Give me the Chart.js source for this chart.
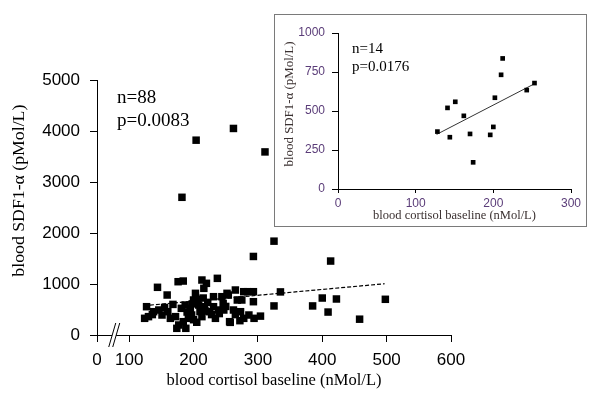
<!DOCTYPE html>
<html>
<head>
<meta charset="utf-8">
<script src="https://cdn.jsdelivr.net/npm/chart.js@4/dist/chart.umd.min.js"></script>
<style>
  html, body { margin: 0; padding: 0; background: #fff; }
  #wrap { position: relative; width: 600px; height: 401px; }
  #inset-box {
    position: absolute; left: 274px; top: 14px; width: 311px; height: 211px;
    border: 1px solid #7a7a7a; background: #fff;
  }
</style>
</head>
<body>
<div id="wrap">
  <canvas id="main-chart" width="600" height="401"></canvas>
  <div id="inset-box"><canvas id="inset-chart" width="311" height="211"></canvas></div>
</div>
<script>
// main scatter: blood cortisol baseline vs blood SDF1-alpha (n=88)
const mainCortisol = [
  204, 262, 311, 182, 325, 293, 413, 498, 458, 422, 400, 409, 385, 325, 335, 304,
  144, 176, 184, 213, 159, 127, 124, 130, 138, 146, 151, 160, 164, 172, 177, 174,
  188, 184, 181, 187, 195, 200, 203, 208, 210, 197, 192, 216, 215,
  220, 237, 231, 244, 252, 265, 268, 275, 278, 284, 293, 293, 246, 239, 247, 231,
  225, 217, 213, 234, 256, 272, 278, 286, 294, 262, 273,
  254, 257, 205, 198, 206, 190, 168, 222, 228, 240, 155, 200, 218, 250, 136, 265
];
const mainSdf1 = [
  3820, 4050, 3590, 2700, 1840, 1540, 1450, 700, 310, 706, 725, 450, 570, 570, 845, 370,
  935, 1045, 1058, 1078, 784, 555, 327, 360, 457, 490, 392, 457, 327, 360, 196, 131,
  131, 261, 523, 588, 523, 686, 817, 588, 457, 392, 327, 915, 725,
  1013, 1111, 751, 751, 817, 882, 686, 686, 849, 849, 849, 653, 620, 490, 490, 555,
  457, 555, 360, 327, 261, 281, 327, 392, 327, 490, 457,
  784, 248, 250, 610, 700, 450, 600, 640, 400, 420, 540, 300, 470, 560, 400, 400
];
const mainTrendX = [123, 497];
const mainTrendY = [575, 1005];
const mainXTicks = [0, 100, 200, 300, 400, 500, 600];
const mainYTicks = [0, 1000, 2000, 3000, 4000, 5000];

// inset scatter (n=14)
const insetCortisol = [128, 141, 144, 151, 162, 170, 174, 196, 200, 202, 210, 212, 243, 253];
const insetSdf1 = [368, 520, 332, 559, 469, 353, 171, 347, 398, 585, 732, 837, 634, 679];
const insetTrendX = [127, 252];
const insetTrendY = [350, 672];
const insetXTicks = [0, 100, 200, 300];
const insetYTicks = [0, 250, 500, 750, 1000];

const X_ZERO_AT = 50;   // the broken x axis puts its "0" label here
const X_BREAK_AT = 76;

const SANS = "'Liberation Sans', Arial, sans-serif";
const SERIF = "'Liberation Serif', 'Times New Roman', serif";
const Y_TITLE = 'blood SDF1-α (pMol/L)';

function toPoints(xs, ys) {
  return xs.map((x, i) => ({ x: x, y: ys[i] }));
}

// vertical axis title, stretched along its length like the original figure
function drawYTitle(ctx, text, cx, cy, size, length, color) {
  ctx.save();
  ctx.font = size + 'px ' + SERIF;
  ctx.fillStyle = color;
  ctx.textAlign = 'center';
  ctx.textBaseline = 'middle';
  const w = ctx.measureText(text).width;
  ctx.translate(cx, cy);
  ctx.rotate(-Math.PI / 2);
  ctx.scale(length / w, 1);
  ctx.fillText(text, 0, 0);
  ctx.restore();
}

const mainNotes = {
  id: 'mainNotes',
  afterDraw(chart) {
    const ctx = chart.ctx;
    const xs = chart.scales.x, ys = chart.scales.y;
    ctx.save();
    // axis break "//"
    const bx = xs.getPixelForValue(X_BREAK_AT);
    const by = ys.getPixelForValue(0);
    ctx.fillStyle = '#fff';
    ctx.beginPath();
    ctx.moveTo(bx - 5, by + 12);
    ctx.lineTo(bx + 2, by - 12);
    ctx.lineTo(bx + 6, by - 12);
    ctx.lineTo(bx - 1, by + 12);
    ctx.closePath();
    ctx.fill();
    ctx.strokeStyle = '#000';
    ctx.lineWidth = 1;
    ctx.beginPath();
    ctx.moveTo(bx - 5, by + 12);
    ctx.lineTo(bx + 2, by - 12);
    ctx.moveTo(bx - 1, by + 12);
    ctx.lineTo(bx + 6, by - 12);
    ctx.stroke();
    // stats text
    ctx.fillStyle = '#000';
    ctx.font = '19px ' + SERIF;
    ctx.textBaseline = 'middle';
    ctx.textAlign = 'left';
    const tx = xs.getPixelForValue(81);
    ctx.fillText('n=88', tx, ys.getPixelForValue(4650));
    ctx.fillText('p=0.0083', tx, ys.getPixelForValue(4200));
    ctx.restore();
    drawYTitle(ctx, Y_TITLE, 20, ys.getPixelForValue(2830), 17, 172, '#000');
  }
};

const insetNotes = {
  id: 'insetNotes',
  afterDraw(chart) {
    const ctx = chart.ctx;
    const xs = chart.scales.x, ys = chart.scales.y;
    ctx.save();
    ctx.fillStyle = '#000';
    ctx.font = '15px ' + SERIF;
    ctx.textBaseline = 'middle';
    const tx = xs.getPixelForValue(18);
    ctx.fillText('n=14', tx, ys.getPixelForValue(897));
    ctx.fillText('p=0.0176', tx, ys.getPixelForValue(782));
    ctx.restore();
    drawYTitle(ctx, Y_TITLE, 15, ys.getPixelForValue(545), 12.5, 125, '#3a3030');
  }
};

new Chart(document.getElementById('main-chart'), {
  type: 'scatter',
  data: {
    datasets: [
      {
        data: toPoints(mainCortisol, mainSdf1),
        pointStyle: 'rect',
        pointRadius: 5.3,
        backgroundColor: '#000',
        borderColor: '#000',
        borderWidth: 0
      },
      {
        type: 'line',
        data: toPoints(mainTrendX, mainTrendY),
        borderColor: '#000',
        borderWidth: 1.2,
        borderDash: [4, 2],
        pointRadius: 0,
        fill: false
      }
    ]
  },
  options: {
    responsive: false,
    animation: false,
    layout: { padding: { left: 0, top: 80, right: 149, bottom: 0 } },
    plugins: { legend: { display: false }, tooltip: { enabled: false } },
    scales: {
      x: {
        type: 'linear',
        min: X_ZERO_AT,
        max: 600,
        afterBuildTicks: s => { s.ticks = mainXTicks.map(v => ({ value: v === 0 ? X_ZERO_AT : v })); },
        afterFit: s => { s.height = 66; },
        grid: { drawOnChartArea: false, drawTicks: true, tickLength: 7, color: '#000' },
        border: { display: true, color: '#000', width: 1 },
        ticks: {
          color: '#000',
          font: { family: SANS, size: 17 },
          padding: 8,
          maxRotation: 0,
          autoSkip: false,
          callback: v => (v === X_ZERO_AT ? '0' : String(v))
        },
        title: {
          display: true,
          text: 'blood cortisol baseline (nMol/L)',
          color: '#000',
          font: { family: SERIF, size: 16.5 },
          padding: 10
        }
      },
      y: {
        min: 0,
        max: 5000,
        afterBuildTicks: s => { s.ticks = mainYTicks.map(v => ({ value: v })); },
        afterFit: s => { s.width = 97; },
        grid: { drawOnChartArea: false, drawTicks: true, tickLength: 7, color: '#000' },
        border: { display: true, color: '#000', width: 1 },
        ticks: { color: '#000', font: { family: SANS, size: 17 }, padding: 10, callback: v => String(v) }
      }
    }
  },
  plugins: [mainNotes]
});

new Chart(document.getElementById('inset-chart'), {
  type: 'scatter',
  data: {
    datasets: [
      {
        data: toPoints(insetCortisol, insetSdf1),
        pointStyle: 'rect',
        pointRadius: 3.3,
        backgroundColor: '#000',
        borderColor: '#000',
        borderWidth: 0
      },
      {
        type: 'line',
        data: toPoints(insetTrendX, insetTrendY),
        borderColor: '#333',
        borderWidth: 1,
        pointRadius: 0,
        fill: false
      }
    ]
  },
  options: {
    responsive: false,
    animation: false,
    layout: { padding: { left: 0, top: 18, right: 15, bottom: 0 } },
    plugins: { legend: { display: false }, tooltip: { enabled: false } },
    scales: {
      x: {
        type: 'linear',
        min: 0,
        max: 300,
        afterBuildTicks: s => { s.ticks = insetXTicks.map(v => ({ value: v })); },
        afterFit: s => { s.height = 37; },
        grid: { drawOnChartArea: false, drawTicks: true, tickLength: 4, color: '#000' },
        border: { display: true, color: '#000', width: 1 },
        ticks: { color: '#5a3c78', font: { family: SANS, size: 12 }, padding: 3, maxRotation: 0, autoSkip: false },
        title: {
          display: true,
          text: 'blood cortisol baseline (nMol/L)',
          color: '#3a3030',
          font: { family: SERIF, size: 12.5 },
          padding: 3
        }
      },
      y: {
        min: 0,
        max: 1000,
        afterBuildTicks: s => { s.ticks = insetYTicks.map(v => ({ value: v })); },
        afterFit: s => { s.width = 63; },
        grid: { drawOnChartArea: false, drawTicks: true, tickLength: 6, color: '#000' },
        border: { display: true, color: '#000', width: 1 },
        ticks: { color: '#5a3c78', font: { family: SANS, size: 12 }, padding: 7, callback: v => String(v) }
      }
    }
  },
  plugins: [insetNotes]
});
</script>
</body>
</html>
